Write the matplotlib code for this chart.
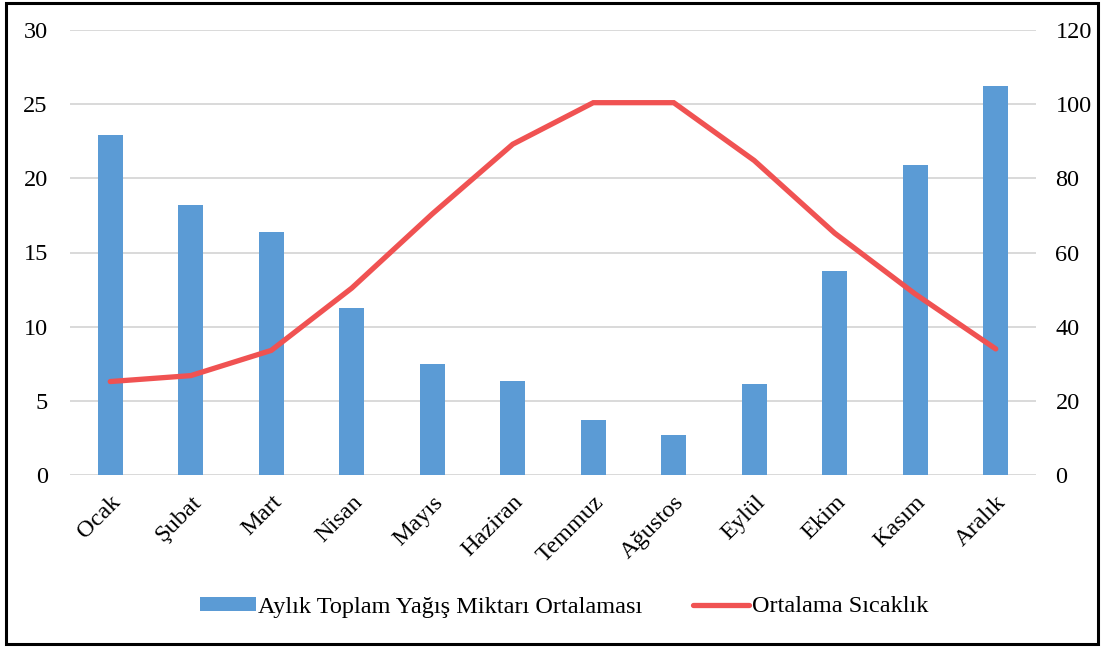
import matplotlib
matplotlib.use("Agg")
import matplotlib.pyplot as plt
from matplotlib.patches import Rectangle

# monthly values
months = ["Ocak", "Şubat", "Mart", "Nisan", "Mayıs", "Haziran",
          "Temmuz", "Ağustos", "Eylül", "Ekim", "Kasım", "Aralık"]
precip = [91.7, 72.8, 65.5, 44.9, 29.8, 25.4, 14.7, 10.8, 24.6, 54.9, 83.7, 104.9]
temp = [6.3, 6.7, 8.4, 12.6, 17.6, 22.3, 25.1, 25.1, 21.2, 16.3, 12.2, 8.5]

left_ticks = [0, 5, 10, 15, 20, 25, 30]
right_ticks = [0, 20, 40, 60, 80, 100, 120]

bar_label = "Aylık Toplam Yağış Miktarı Ortalaması"
line_label = "Ortalama Sıcaklık"

plt.rcParams["font.family"] = ["Liberation Serif", "DejaVu Serif"]
plt.rcParams["font.size"] = 17.5

fig = plt.figure(figsize=(11.02, 6.48), dpi=100)
ax_t = fig.add_axes([70 / 1102, 1 - 475 / 648, 966 / 1102, 445 / 648])
ax_p = ax_t.twinx()

# bars + grid on the lower axes, line on top
ax_t.set_zorder(ax_p.get_zorder() + 1)
ax_t.patch.set_visible(False)

x = list(range(len(months)))
bars = ax_p.bar(x, precip, width=0.31, color="#5B9BD5", label=bar_label, zorder=2)
line, = ax_t.plot(x, temp, color="#F05252", lw=3.8, solid_capstyle="round",
                  solid_joinstyle="miter", label=line_label)

ax_t.set_xlim(-0.5, len(months) - 0.5)
ax_t.set_ylim(0, 30)
ax_p.set_ylim(0, 120)
ax_t.set_yticks(left_ticks)
ax_p.set_yticks(right_ticks)
ax_p.yaxis.grid(True, color="#D9D9D9", lw=1.4, zorder=0)
ax_p.set_axisbelow(True)

ax_t.set_xticks(x)
ax_t.set_xticklabels(months, rotation=45, ha="right", rotation_mode="anchor")

for a in (ax_t, ax_p):
    for s in a.spines.values():
        s.set_visible(False)
    a.tick_params(length=0)
ax_t.tick_params(axis="y", pad=16)
ax_t.tick_params(axis="x", pad=12)
ax_p.tick_params(axis="y", pad=14)

fig.legend([bars, line], [bar_label, line_label], loc="center",
           bbox_to_anchor=(564 / 1102, 1 - 607 / 648), ncol=2, frameon=False,
           handlelength=2.3, handleheight=0.5, handletextpad=0.1,
           columnspacing=2.1, fontsize=17.5)

fig.patches.append(Rectangle((6 / 1102, 4 / 648), 1092 / 1102, 641 / 648,
                             transform=fig.transFigure, fill=False,
                             edgecolor="black", lw=2.2))

fig.savefig("out.png", dpi=100)
